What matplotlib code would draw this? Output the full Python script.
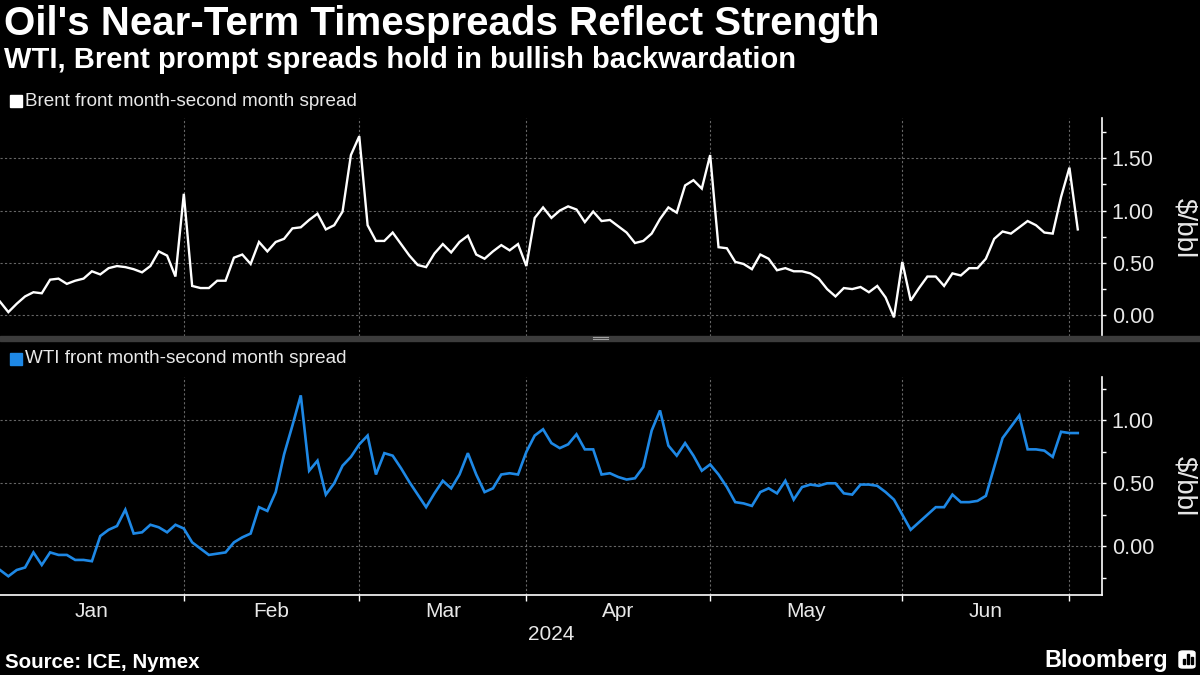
import numpy as np
import matplotlib.pyplot as plt
from matplotlib.patches import Rectangle, FancyBboxPatch
from matplotlib.ticker import FixedLocator

plt.rcParams['font.family'] = ['Liberation Sans', 'DejaVu Sans']

# one value per trading day, Jan 2 - Jul 2 2024 ($/bbl)
brent = [0.13, 0.03, 0.11, 0.18, 0.22, 0.21, 0.34, 0.35, 0.30, 0.33,
         0.35, 0.42, 0.39, 0.45, 0.47, 0.46, 0.44, 0.41, 0.47, 0.61,
         0.57, 0.37, 1.16, 0.28, 0.26, 0.26, 0.33, 0.33, 0.55, 0.58,
         0.49, 0.70, 0.61, 0.70, 0.73, 0.83, 0.84, 0.91, 0.97, 0.82,
         0.86, 0.99, 1.53, 1.71, 0.86, 0.71, 0.71, 0.79, 0.68, 0.57,
         0.48, 0.46, 0.59, 0.68, 0.60, 0.70, 0.76, 0.58, 0.54, 0.61,
         0.67, 0.62, 0.68, 0.47, 0.93, 1.03, 0.93, 1.00, 1.04, 1.01,
         0.89, 0.99, 0.90, 0.91, 0.85, 0.79, 0.69, 0.71, 0.78, 0.92,
         1.03, 0.98, 1.24, 1.29, 1.21, 1.53, 0.65, 0.64, 0.51, 0.49,
         0.44, 0.58, 0.54, 0.43, 0.45, 0.42, 0.42, 0.40, 0.35, 0.25,
         0.18, 0.26, 0.25, 0.27, 0.22, 0.28, 0.17, -0.02, 0.51, 0.14,
         0.26, 0.37, 0.37, 0.28, 0.40, 0.38, 0.45, 0.45, 0.54, 0.73,
         0.80, 0.78, 0.84, 0.90, 0.86, 0.79, 0.78, 1.13, 1.41, 0.82]

wti = [-0.19, -0.24, -0.19, -0.17, -0.05, -0.15, -0.05, -0.07, -0.07, -0.11,
       -0.11, -0.12, 0.08, 0.13, 0.16, 0.29, 0.10, 0.11, 0.17, 0.15,
       0.11, 0.17, 0.14, 0.03, -0.02, -0.07, -0.06, -0.05, 0.03, 0.07,
       0.10, 0.31, 0.28, 0.43, 0.73, 0.96, 1.20, 0.60, 0.68, 0.41,
       0.50, 0.64, 0.71, 0.81, 0.88, 0.57, 0.74, 0.72, 0.62, 0.51,
       0.41, 0.31, 0.42, 0.52, 0.46, 0.57, 0.74, 0.57, 0.43, 0.46,
       0.57, 0.58, 0.57, 0.75, 0.88, 0.93, 0.82, 0.78, 0.81, 0.89,
       0.77, 0.77, 0.57, 0.58, 0.55, 0.53, 0.54, 0.63, 0.92, 1.08,
       0.80, 0.72, 0.82, 0.72, 0.60, 0.65, 0.57, 0.47, 0.35, 0.34,
       0.32, 0.43, 0.46, 0.42, 0.52, 0.37, 0.47, 0.49, 0.48, 0.50,
       0.50, 0.42, 0.41, 0.49, 0.49, 0.48, 0.43, 0.37, 0.25, 0.13,
       0.19, 0.25, 0.31, 0.31, 0.41, 0.35, 0.35, 0.36, 0.40, 0.63,
       0.86, 0.95, 1.04, 0.77, 0.77, 0.76, 0.71, 0.91, 0.90, 0.90]

# index of first trading day of Feb..Jul
month_starts = [22, 43, 63, 85, 108, 128]
month_labels = ['Jan', 'Feb', 'Mar', 'Apr', 'May', 'Jun']

x = np.arange(len(brent))
bounds = np.array([0] + month_starts)
label_pos = (bounds[:-1] + bounds[1:]) / 2

W, H = 1200, 675
fig = plt.figure(figsize=(12, 6.75), dpi=100, facecolor='black')

def px(x0, y0, x1, y1):
    return [x0 / W, 1 - y1 / H, (x1 - x0) / W, (y1 - y0) / H]

ax1 = fig.add_axes(px(0, 118, 1102, 336))
ax2 = fig.add_axes(px(0, 377, 1102, 595))

grid_kw = dict(color='#666666', linewidth=0.8, linestyle=(0, (2, 2)))
txt = '#e8e8e8'

for ax in (ax1, ax2):
    ax.set_facecolor('black')
    for s in ['top', 'left', 'bottom']:
        ax.spines[s].set_visible(False)
    ax.spines['right'].set_color('white')
    ax.spines['right'].set_linewidth(1.2)
    ax.yaxis.tick_right()
    ax.tick_params(axis='y', which='both', colors='white', direction='out',
                   length=3, width=1, labelsize=15.5, pad=4, labelcolor=txt)
    ax.set_xlim(0, 131.9)
    ax.xaxis.set_major_locator(FixedLocator(month_starts))
    ax.grid(True, which='major', **grid_kw)
    ax.set_axisbelow(True)

ax1.plot(x, brent, color='white', linewidth=1.7, solid_joinstyle='miter')
ax1.set_ylim(-0.198, 1.884)
ax1.yaxis.set_major_locator(FixedLocator([0, 0.5, 1.0, 1.5]))
ax1.yaxis.set_minor_locator(FixedLocator([0.25, 0.75, 1.25, 1.75]))
ax1.set_yticklabels(['0.00', '0.50', '1.00', '1.50'])
ax1.tick_params(axis='x', length=0, labelbottom=False)

ax2.plot(x, wti, color='#1e88e5', linewidth=1.9, solid_joinstyle='miter')
ax2.set_ylim(-0.389, 1.346)
ax2.yaxis.set_major_locator(FixedLocator([0, 0.5, 1.0]))
ax2.yaxis.set_minor_locator(FixedLocator([-0.25, 0.25, 0.75, 1.25]))
ax2.set_yticklabels(['0.00', '0.50', '1.00'])
ax2.spines['bottom'].set_visible(True)
ax2.spines['bottom'].set_color('white')
ax2.spines['bottom'].set_linewidth(1.2)
ax2.xaxis.set_minor_locator(FixedLocator(label_pos))
ax2.set_xticklabels([], minor=False)
ax2.set_xticklabels(month_labels, minor=True)
ax2.tick_params(axis='x', which='major', colors='white', length=4, width=1)
ax2.tick_params(axis='x', which='minor', length=0, labelsize=15,
                labelcolor=txt, pad=5)

# unit labels
for yc in (228, 486):
    fig.text(1184 / W, 1 - yc / H, '$/bbl', rotation=270, color=txt,
             fontsize=20, ha='center', va='center')

fig.text(551 / W, 1 - 634 / H, '2024', color=txt, fontsize=15,
         ha='center', va='center')

# panel separator
fig.patches.append(Rectangle((0, 1 - 340.7 / H), 1, 4.7 / H,
                             transform=fig.transFigure, color='#3c3c3c'))
for yy in (337.4, 339.4):
    fig.add_artist(plt.Line2D([593 / W, 608 / W], [1 - yy / H, 1 - yy / H],
                              color='#a0a0a0', linewidth=0.8))

# legends
fig.patches.append(Rectangle((10 / W, 1 - 107 / H), 12 / W, 12 / H,
                             transform=fig.transFigure, color='white'))
fig.text(25 / W, 1 - 101 / H, 'Brent front month-second month spread',
         color=txt, fontsize=13.6, va='center')
fig.patches.append(Rectangle((10 / W, 1 - 365 / H), 12 / W, 12 / H,
                             transform=fig.transFigure, color='#1e88e5'))
fig.text(25 / W, 1 - 359 / H, 'WTI front month-second month spread',
         color=txt, fontsize=13.6, va='center')

# titles
fig.text(4 / W, 1 - 24 / H, "Oil's Near-Term Timespreads Reflect Strength",
         color='white', fontsize=29, fontweight='bold', va='center')
fig.text(4 / W, 1 - 60 / H, 'WTI, Brent prompt spreads hold in bullish backwardation',
         color='white', fontsize=21, fontweight='bold', va='center')

# footer
fig.text(5 / W, 1 - 662 / H, 'Source: ICE, Nymex', color='white',
         fontsize=14.8, fontweight='bold', va='center')
fig.text(1168 / W, 1 - 660 / H, 'Bloomberg', color='white', fontsize=16.8,
         fontweight='bold', ha='right', va='center')
fig.patches.append(FancyBboxPatch((1179 / W, 1 - 668 / H), 16 / W, 17 / H,
                                  boxstyle='round,pad=0,rounding_size=0.003',
                                  transform=fig.transFigure, color='white'))
for bx, bh in ((1183, 5), (1187, 10), (1191, 7)):
    fig.patches.append(Rectangle((bx / W, 1 - 664 / H), 2 / W, bh / H,
                                 transform=fig.transFigure, color='black'))

fig.savefig('out.png', dpi=100, facecolor='black')
